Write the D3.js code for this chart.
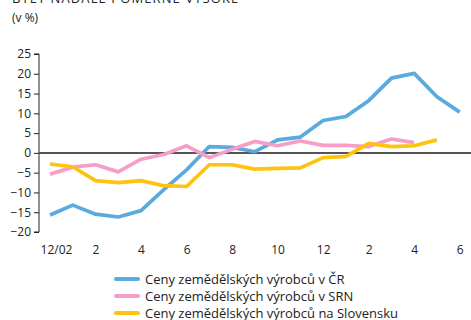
<!DOCTYPE html>
<html>
<head>
<meta charset="utf-8">
<script src="https://cdn.jsdelivr.net/npm/d3@7"></script>
<style>
  html, body { margin: 0; padding: 0; background: #fff; }
  svg { display: block; font-family: "Open Sans", "Noto Sans", sans-serif; }
</style>
</head>
<body>
<svg id="chart" width="471" height="320"></svg>
<script>
// Months from 12/2002 to 6/2004
const months = ["12/02","1","2","3","4","5","6","7","8","9","10","11","12","1","2","3","4","5","6"];
const tickMonths = [0, 2, 4, 6, 8, 10, 12, 14, 16, 18];
const yTicks = [-20, -15, -10, -5, 0, 5, 10, 15, 20, 25];

// Year-on-year change of agricultural producer prices (%)
const ceskaRepublika = [-15.7, -13.2, -15.5, -16.2, -14.6, -9.3, -4.3, 1.6, 1.4, 0.3, 3.3, 4.0, 8.2, 9.2, 13.2, 18.9, 20.1, 14.2, 10.3];
const nemecko = [-5.4, -3.6, -3.0, -4.8, -1.6, -0.4, 1.8, -1.2, 0.9, 2.9, 1.8, 3.0, 1.9, 1.9, 1.6, 3.5, 2.6];
const slovensko = [-2.8, -3.5, -7.0, -7.5, -7.0, -8.3, -8.5, -3.0, -3.0, -4.1, -3.9, -3.8, -1.2, -0.9, 2.4, 1.6, 1.8, 3.3];

const seriesNames = [
  "Ceny zemědělských výrobců v ČR",
  "Ceny zemědělských výrobců v SRN",
  "Ceny zemědělských výrobců na Slovensku"
];
const seriesColors = ["#5aaadf", "#f59ec6", "#ffc20e"];
const seriesValues = [ceskaRepublika, nemecko, slovensko];

const svg = d3.select("#chart");

// Heading (its upper part runs off the top edge) and unit
svg.append("text")
  .attr("x", 12).attr("y", 3)
  .attr("font-size", 13).attr("letter-spacing", 1.1).attr("fill", "#222")
  .text("BYLY NADÁLE POMĚRNĚ VYSOKÉ");
svg.append("text")
  .attr("x", 12).attr("y", 22)
  .attr("font-size", 12).attr("fill", "#222")
  .text("(v %)");

const x = d3.scaleLinear().domain([0, 18]).range([50, 459.7]);
const y = d3.scaleLinear().domain([-20, 25]).range([232, 54]);

// Y axis
const yAxis = svg.append("g")
  .attr("transform", "translate(39,0)")
  .call(d3.axisLeft(y).tickValues(yTicks).tickSize(5).tickPadding(3).tickFormat(d3.format("d")));
yAxis.select(".domain").attr("stroke", "#222").attr("d", `M-5,${y(25)}H0V${y(-20)}H-5`);
yAxis.selectAll(".tick line").attr("stroke", "#222");
yAxis.selectAll(".tick text").attr("font-size", 12).attr("fill", "#222")
  .attr("font-family", "\"Open Sans\", \"Noto Sans\", sans-serif");

// X axis labels
const xAxis = svg.append("g")
  .attr("transform", "translate(0,243)")
  .call(d3.axisBottom(x).tickValues(tickMonths).tickSize(0).tickPadding(0)
    .tickFormat(i => months[i]));
xAxis.select(".domain").remove();
xAxis.selectAll(".tick text").attr("font-size", 12).attr("fill", "#222")
  .attr("font-family", "\"Open Sans\", \"Noto Sans\", sans-serif")
  .attr("dy", "0.9em")
  .attr("dx", i => i === 0 ? 6 : 0);

// Zero line
svg.append("line")
  .attr("x1", 39).attr("x2", 471)
  .attr("y1", y(0)).attr("y2", y(0))
  .attr("stroke", "#555").attr("stroke-width", 2);

// Series lines
const line = d3.line().x((d, i) => x(i)).y(d => y(d));
seriesValues.forEach((vals, k) => {
  svg.append("path")
    .datum(vals)
    .attr("fill", "none")
    .attr("stroke", seriesColors[k])
    .attr("stroke-width", 3.7)
    .attr("stroke-linejoin", "round")
    .attr("d", line);
});

// Legend
const legend = svg.append("g");
seriesNames.forEach((name, k) => {
  const ly = 279 + k * 17;
  legend.append("line")
    .attr("x1", 116).attr("x2", 138)
    .attr("y1", ly).attr("y2", ly)
    .attr("stroke", seriesColors[k]).attr("stroke-width", 4).attr("stroke-linecap", "round");
  legend.append("text")
    .attr("x", 145).attr("y", ly + 4.5)
    .attr("font-size", 13).attr("fill", "#222")
    .text(name);
});
</script>
</body>
</html>
